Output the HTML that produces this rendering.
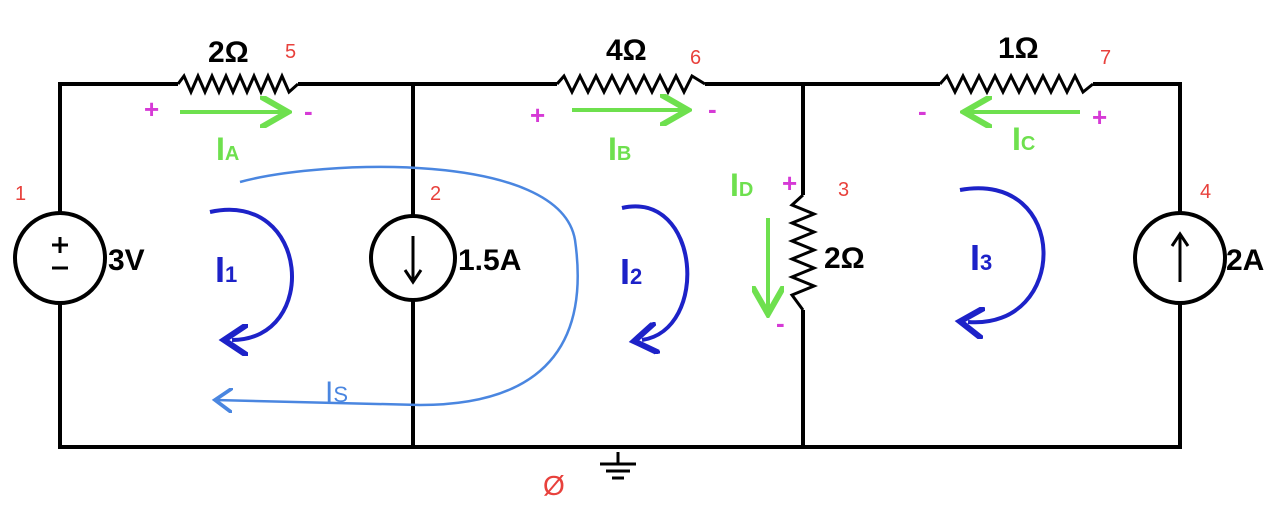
<!DOCTYPE html>
<html><head><meta charset="utf-8"><style>
html,body{margin:0;padding:0;background:#fff;}
svg{display:block;}
text{font-family:"Liberation Sans",sans-serif;}
</style></head><body>
<svg width="1280" height="509" viewBox="0 0 1280 509">
<defs>
<marker id="ag" markerWidth="8" markerHeight="8" refX="6" refY="4" orient="auto"><path d="M0,0 L7,4 L0,8" fill="none" stroke="#6ee04e" stroke-width="1.5"/></marker>
<marker id="ab" markerWidth="8" markerHeight="8" refX="4" refY="4" orient="auto"><path d="M0,0 L6,4 L0,8" fill="none" stroke="#1d22c8" stroke-width="1.5"/></marker>
<marker id="al" markerWidth="10" markerHeight="10" refX="7" refY="5" orient="auto"><path d="M0,0 L7,5 L0,10" fill="none" stroke="#4a86e0" stroke-width="1.5"/></marker>
</defs>
<g stroke="#000" stroke-width="4" fill="none">
<path d="M60,213 V84 H178 M298,84 H557 M705,84 H940 M1093,84 H1180 V213"/>
<path d="M60,303 V447 H1180 V303"/>
<path d="M413,84 V216 M413,300 V447"/>
<path d="M803,84 V195 M803,310 V447"/>
</g>
<g stroke="#000" stroke-width="3" fill="none">
<polyline points="178,84 184,76 191,92 198,76 205,92 212,76 219,92 226,76 233,92 240,76 247,92 254,76 261,92 268,76 275,92 282,76 289,92 298,84"/>
<polyline points="557,84 564,76 572,92 580,76 588,92 596,76 604,92 612,76 620,92 628,76 636,92 644,76 652,92 660,76 668,92 676,76 684,92 692,76 705,84"/>
<polyline points="940,84 947,76 955,92 963,76 971,92 979,76 987,92 995,76 1003,92 1011,76 1019,92 1027,76 1035,92 1043,76 1051,92 1059,76 1067,92 1075,76 1083,92 1093,84"/>
<polyline points="803,195 792,205 814,214 792,223 814,232 792,241 814,250 792,259 814,268 792,277 814,286 792,295 803,310"/>
</g>
<g stroke="#000" stroke-width="4" fill="none">
<circle cx="60" cy="258" r="45"/>
<circle cx="413" cy="258" r="42"/>
<circle cx="1180" cy="258" r="45"/>
<path d="M413,236 V280 M405,270 L413,282 L421,270" stroke-width="3"/>
<path d="M1180,282 V234 M1172,246 L1180,234 L1188,246" stroke-width="3"/>
<path d="M52,245 H68 M60,237 V253 M52,268 H68" stroke-width="3"/>
<path d="M618,452 V464 M600,464 H636 M606,471 H630 M612,478 H624" stroke-width="3"/>
</g>
<g font-size="30" font-weight="bold" fill="#000">
<text x="208" y="62">2Ω</text><text x="606" y="60">4Ω</text><text x="998" y="58">1Ω</text>
<text x="108" y="270">3V</text><text x="458" y="270">1.5A</text><text x="824" y="268">2Ω</text><text x="1226" y="270">2A</text>
</g>
<g fill="#e8413c" font-size="20">
<text x="285" y="58">5</text><text x="690" y="64">6</text><text x="1100" y="64">7</text>
<text x="15" y="200">1</text><text x="430" y="200">2</text><text x="838" y="196">3</text><text x="1200" y="198">4</text>
<text x="543" y="495" font-size="28">Ø</text>
</g>
<g fill="#d63ad6" font-size="26" font-weight="bold">
<text x="144" y="118">+</text><text x="304" y="120">-</text>
<text x="530" y="124">+</text><text x="708" y="118">-</text>
<text x="918" y="120">-</text><text x="1092" y="126">+</text>
<text x="782" y="192">+</text><text x="776" y="332">-</text>
</g>
<g stroke="#6ee04e" stroke-width="4" fill="none">
<path d="M180,112 H284" marker-end="url(#ag)"/>
<path d="M572,110 H684" marker-end="url(#ag)"/>
<path d="M1080,112 H968" marker-end="url(#ag)"/>
<path d="M768,218 V310" marker-end="url(#ag)"/>
</g>
<g fill="#6ee04e" font-size="32" font-weight="bold">
<text x="216" y="160">I<tspan font-size="20">A</tspan></text>
<text x="608" y="160">I<tspan font-size="20">B</tspan></text>
<text x="1012" y="150">I<tspan font-size="20">C</tspan></text>
<text x="730" y="196">I<tspan font-size="20">D</tspan></text>
</g>
<g stroke="#1d22c8" stroke-width="4" fill="none">
<path d="M210,212 C310,190 320,340 232,340" marker-end="url(#ab)"/>
<path d="M622,208 C700,190 710,330 642,340" marker-end="url(#ab)"/>
<path d="M960,190 C1070,170 1070,330 968,322" marker-end="url(#ab)"/>
</g>
<g fill="#1d22c8" font-size="36" font-weight="bold">
<text x="215" y="282">I<tspan font-size="22">1</tspan></text>
<text x="620" y="284">I<tspan font-size="22">2</tspan></text>
<text x="970" y="270">I<tspan font-size="22">3</tspan></text>
</g>
<path d="M240,182 C320,160 560,150 575,240 C595,380 500,405 420,405 L215,400" stroke="#4a86e0" stroke-width="2.5" fill="none" marker-end="url(#al)"/>
<text x="325" y="402" fill="#4a86e0" font-size="30">I<tspan font-size="22">S</tspan></text>
</svg>
</body></html>
